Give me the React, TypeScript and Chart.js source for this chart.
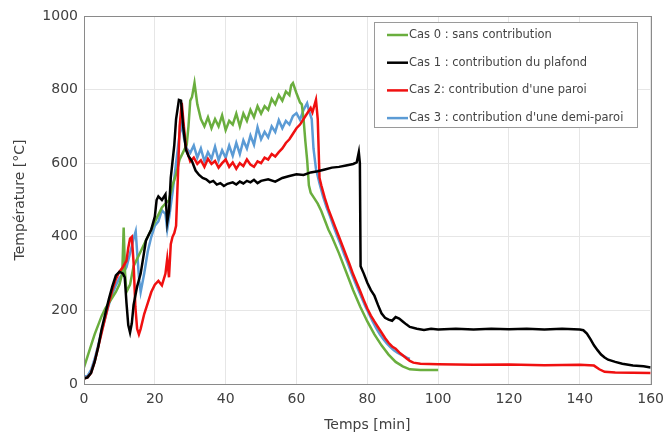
import React, { useEffect, useRef } from "react";
import { Chart, registerables } from "chart.js";

Chart.register(...registerables);

// [time (min), temperature (°C)]
const cas0: [number, number][] = [
  [0,45],[1,75],[2,105],[3,135],[4,160],[5,185],[6,205],[7,220],[8,235],[9,250],[10,270],[10.8,300],[11.2,425],[11.6,300],[12,250],[13,270],[14,320],[15,340],[16,360],[17,380],[18,400],[19,420],[20,440],[21,460],[22,480],[23,490],[24,500],[25,540],[26,570],[27,610],[28,630],[29,650],[29.5,700],[30,770],[30.5,780],[31.2,818],[32,760],[33,720],[34,700],[35,725],[36,695],[37,720],[38,700],[39,730],[40,690],[41,715],[42,705],[43,735],[44,700],[45,735],[46,715],[47,745],[48,725],[49,755],[50,735],[51,755],[52,745],[53,775],[54,760],[55,785],[56,770],[57,795],[58,785],[58.5,812],[59,818],[60,790],[61,765],[61.5,760],[62,720],[62.5,660],[63,610],[63.5,540],[64,520],[65,505],[66,490],[67,470],[68,445],[69,420],[70,400],[72,355],[74,305],[76,255],[78,210],[80,170],[82,135],[84,105],[86,80],[88,60],[90,48],[92,40],[95,38],[100,38]
];

const cas1: [number, number][] = [
  [0,15],[1,18],[2,30],[3,60],[4,100],[5,150],[6,190],[7,230],[8,265],[9,295],[10,305],[11,300],[11.5,290],[12,220],[12.5,160],[13,140],[13.5,165],[14,215],[15,265],[16,300],[17,360],[17.5,390],[18,400],[19,420],[20,455],[20.5,500],[21,510],[22,500],[23,515],[23.5,440],[24,470],[24.5,560],[25,605],[25.5,650],[26,720],[26.8,772],[27.4,770],[28,700],[28.8,636],[29.5,620],[30.5,605],[31.5,580],[32.5,568],[33.5,560],[34.5,556],[35.5,548],[36.5,552],[37.5,542],[38.5,546],[39.5,538],[40.5,544],[42,548],[43,542],[44,550],[45,545],[46,552],[47,548],[48,555],[49,546],[50,552],[52,556],[54,550],[56,560],[58,565],[60,570],[62,568],[64,575],[66,578],[68,583],[70,588],[72,590],[74,594],[76,598],[77,602],[77.6,630],[77.9,600],[78.1,320],[79,300],[80,275],[81,255],[82,240],[83,215],[84,192],[85,180],[86,175],[87,172],[88,182],[89,178],[90,170],[91,162],[92,155],[94,150],[96,147],[98,150],[100,148],[105,150],[110,148],[115,150],[120,149],[125,150],[130,148],[135,150],[140,148],[141,146],[142,137],[143,122],[144,105],[145,92],[146,80],[147,72],[148,66],[150,60],[152,55],[155,50],[158,48],[160,45]
];

const cas2: [number, number][] = [
  [0,15],[1,18],[2,30],[3,60],[4,100],[5,140],[6,180],[7,220],[8,255],[9,285],[10,305],[11,318],[12,335],[12.5,370],[13,395],[13.5,400],[14,330],[14.5,210],[15,150],[15.5,135],[16,150],[17,190],[18,220],[19,250],[20,270],[21,280],[22,268],[23,300],[23.5,340],[24,290],[24.5,380],[25,400],[25.5,410],[26,430],[26.5,560],[27,700],[27.6,764],[28.2,700],[28.8,640],[29.5,620],[30,605],[31,615],[32,598],[33,608],[34,590],[35,612],[36,598],[37,606],[38,588],[39,600],[40,610],[41,590],[42,602],[43,585],[44,600],[45,592],[46,610],[47,596],[48,590],[49,605],[50,600],[51,615],[52,610],[53,625],[54,618],[55,630],[56,640],[57,655],[58,665],[59,680],[60,695],[61,705],[62,720],[63,735],[64,750],[64.5,738],[65.5,772],[66,720],[66.5,560],[67,540],[68,505],[69,475],[70,450],[71,425],[72,400],[73,375],[74,350],[75,325],[76,298],[77,275],[78,252],[79,228],[80,205],[81,186],[82,170],[83,155],[84,140],[85,125],[86,112],[87,102],[88,96],[89,86],[90,78],[91,70],[92,63],[93,58],[95,55],[100,54],[110,52],[120,53],[130,51],[140,52],[144,50],[145.5,40],[147,33],[150,31],[160,30]
];

const cas3: [number, number][] = [
  [0,20],[1,22],[2,38],[3,68],[4,105],[5,145],[6,180],[7,215],[8,245],[9,268],[10,288],[11,300],[12,318],[13,355],[14,395],[14.6,415],[15.1,345],[15.6,280],[16,250],[17,300],[18,360],[19,400],[20,430],[21,442],[22,472],[23,462],[23.5,420],[24,450],[25,520],[26,600],[27,680],[27.6,705],[28.3,665],[29,640],[30,628],[31,648],[32,615],[33,640],[34,605],[35,630],[36,612],[37,645],[38,608],[39,635],[40,615],[41,648],[42,620],[43,655],[44,625],[45,662],[46,640],[47,675],[48,650],[49,698],[50,665],[51,685],[52,670],[53,700],[54,685],[55,717],[56,695],[57,715],[58,705],[59,728],[60,736],[61,718],[62,745],[63,763],[63.6,740],[64.3,720],[64.8,640],[65.5,585],[66.5,545],[67.5,510],[68.5,480],[69.5,455],[70.5,428],[71.5,402],[72.5,378],[73.5,352],[74.5,328],[75.5,302],[76.5,278],[77.5,255],[78.5,232],[79.5,210],[80.5,190],[81.5,170],[82.5,152],[83.5,136],[84.5,122],[85.5,110],[86.5,100],[87.5,92],[88.5,85],[89.5,80],[90.5,75],[91.5,70],[92,68]
];

const seriesLabels = [
  "Cas 0 : sans contribution",
  "Cas 1 : contribution du plafond",
  "Cas 2: contribution d'une paroi",
  "Cas 3 : contribution d'une demi-paroi",
];
const seriesColors = ["#6aae3e", "#000000", "#f01010", "#5b9bd5"];
const seriesData = [cas0, cas1, cas2, cas3];
// drawing order: earlier index drawn on top
const drawOrder = [1, 2, 0, 3];

const xTicks = { min: 0, max: 160, step: 20 };
const yTicks = { min: 0, max: 1000, step: 200 };

const FONT = "'DejaVu Sans', sans-serif";

const frameAndLegend = {
  id: "frameAndLegend",
  afterDraw(chart: any) {
    const { ctx, chartArea } = chart;
    ctx.save();
    ctx.strokeStyle = "#8a8a8a";
    ctx.lineWidth = 1;
    ctx.strokeRect(
      Math.round(chartArea.left) + 0.5,
      Math.round(chartArea.top) + 0.5,
      Math.round(chartArea.right - chartArea.left),
      Math.round(chartArea.bottom - chartArea.top)
    );
    // legend box
    const bw = 263;
    const bh = 105;
    const bx = Math.round(chartArea.right) - 14 - bw;
    const by = Math.round(chartArea.top) + 6;
    ctx.fillStyle = "#ffffff";
    ctx.fillRect(bx, by, bw, bh);
    ctx.strokeStyle = "#9a9a9a";
    ctx.strokeRect(bx + 0.5, by + 0.5, bw, bh);
    ctx.font = `11.5px ${FONT}`;
    ctx.textBaseline = "middle";
    ctx.textAlign = "left";
    seriesLabels.forEach((label, i) => {
      const yy = by + 13 + i * 27.7;
      ctx.strokeStyle = seriesColors[i];
      ctx.lineWidth = 2.5;
      ctx.beginPath();
      ctx.moveTo(bx + 13, yy);
      ctx.lineTo(bx + 34, yy);
      ctx.stroke();
      ctx.fillStyle = "#444444";
      ctx.fillText(label, bx + 35, yy);
    });
    ctx.restore();
  },
};

export default function App() {
  const ref = useRef<HTMLCanvasElement>(null);

  useEffect(() => {
    if (!ref.current) return;
    const datasets = drawOrder.map((i) => ({
      label: seriesLabels[i],
      data: seriesData[i].map(([x, y]) => ({ x, y })),
      borderColor: seriesColors[i],
      backgroundColor: seriesColors[i],
      borderWidth: 2.5,
      pointRadius: 0,
      tension: 0,
      fill: false,
    }));
    const chart = new Chart(ref.current, {
      type: "line",
      data: { datasets },
      options: {
        animation: false,
        responsive: true,
        maintainAspectRatio: false,
        layout: { padding: { top: 16, right: 15, left: 0, bottom: 0 } },
        plugins: {
          legend: { display: false },
          tooltip: { enabled: false },
        },
        scales: {
          x: {
            type: "linear",
            min: xTicks.min,
            max: xTicks.max,
            afterFit: (s: any) => {
              s.height = 55;
            },
            ticks: {
              stepSize: xTicks.step,
              padding: 7,
              color: "#404040",
              font: { family: FONT, size: 14 },
              callback: (v: any) => String(v),
            },
            grid: { color: "#e6e6e6", drawTicks: false },
            border: { display: false },
            title: {
              display: true,
              text: "Temps [min]",
              color: "#404040",
              font: { family: FONT, size: 14 },
              padding: { top: 0, bottom: 5 },
            },
          },
          y: {
            type: "linear",
            min: yTicks.min,
            max: yTicks.max,
            afterFit: (s: any) => {
              s.width = 84;
            },
            ticks: {
              stepSize: yTicks.step,
              padding: 6,
              color: "#404040",
              font: { family: FONT, size: 14 },
              callback: (v: any) => String(v),
            },
            grid: { color: "#e6e6e6", drawTicks: false },
            border: { display: false },
            title: {
              display: true,
              text: "Température [°C]",
              color: "#404040",
              font: { family: FONT, size: 14 },
              padding: { top: 12, bottom: 0 },
            },
          },
        },
      },
      plugins: [frameAndLegend],
    });
    return () => chart.destroy();
  }, []);

  return (
    <div style={{ position: "absolute", left: 0, top: 0, width: 671, height: 439, background: "#fff" }}>
      <canvas ref={ref} />
    </div>
  );
}
